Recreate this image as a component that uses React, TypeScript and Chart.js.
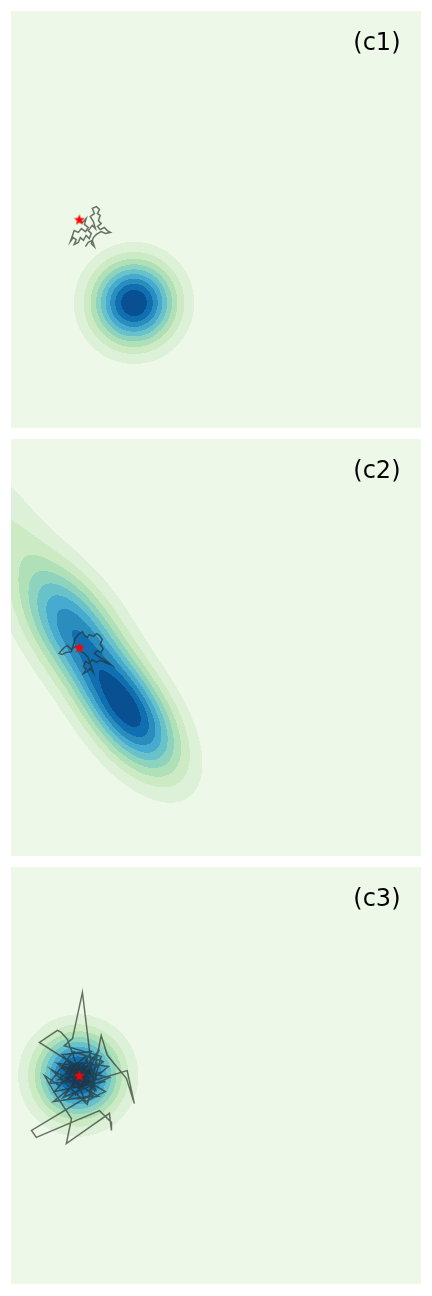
import React, { useEffect, useRef } from "react";
import { Chart, registerables } from "chart.js";

Chart.register(...registerables);

// ---------- data ----------
const AXIS_MIN = -6;
const AXIS_MAX = 6;
const PANEL_LABELS = ["(c1)", "(c2)", "(c3)"];

// starting point (red star), same in every panel
const START_X = [-4.0];
const START_Y = [0.0];

// contour levels as fractions of the panel's peak density, and their fills (GnBu)
const LEVEL_FRACTIONS = [0.1, 0.2, 0.3, 0.4, 0.5, 0.6, 0.7, 0.8, 0.9];
const LEVEL_COLORS = [
  "#eef8e8", "#dcf1d7", "#ccebc5", "#afe0b8", "#8dd3be",
  "#69c2ca", "#47abcf", "#2b8cbe", "#0f6fb0", "#085092",
];

// density components (Gaussian bumps): centre, spread along / across axis, axis angle (deg), height
const C1_MEAN_X = [-2.4];
const C1_MEAN_Y = [-2.4];
const C1_SIGMA_MAJOR = [0.82];
const C1_SIGMA_MINOR = [0.82];
const C1_ANGLE = [0];
const C1_HEIGHT = [1];

const C2_MEAN_X = [-2.55, -4.27, -6.33];
const C2_MEAN_Y = [-1.89, 0.66, 3.8];
const C2_SIGMA_MAJOR = [1.42, 1.45, 1.6];
const C2_SIGMA_MINOR = [0.73, 0.8, 0.72];
const C2_ANGLE = [126, 126, 126];
const C2_HEIGHT = [1, 0.75, 0.19];

const C3_MEAN_X = [-4.03];
const C3_MEAN_Y = [0.0];
const C3_SIGMA_MAJOR = [0.82];
const C3_SIGMA_MINOR = [0.82];
const C3_ANGLE = [0];
const C3_HEIGHT = [1];

// sampler trajectories
const C1_PATH_X = [-4.00, -3.91, -3.80, -3.85, -3.74, -3.82, -3.94, -4.03, -4.15, -4.20, -4.26, -4.18, -4.09, -4.15, -4.03, -3.97, -3.88, -3.80, -3.71, -3.65, -3.74, -3.62, -3.53, -3.59, -3.68, -3.56, -3.62, -3.50, -3.41, -3.47, -3.39, -3.44, -3.36, -3.47, -3.39, -3.27, -3.18, -3.09, -3.24, -3.36, -3.50, -3.59, -3.65, -3.56, -3.62, -3.74, -3.82];
const C1_PATH_Y = [0.00, -0.09, 0.03, -0.14, -0.23, -0.35, -0.26, -0.37, -0.32, -0.46, -0.63, -0.52, -0.58, -0.72, -0.66, -0.52, -0.60, -0.46, -0.55, -0.40, -0.32, -0.17, -0.26, -0.06, 0.09, 0.17, 0.32, 0.37, 0.29, 0.17, 0.12, -0.03, -0.12, -0.20, -0.29, -0.23, -0.32, -0.37, -0.40, -0.35, -0.43, -0.52, -0.69, -0.78, -0.60, -0.66, -0.78];

const C2_PATH_X = [-4.00, -4.12, -4.23, -4.35, -4.44, -4.53, -4.59, -4.50, -4.38, -4.23, -4.18, -4.12, -4.03, -3.91, -3.85, -3.77, -3.71, -3.59, -3.50, -3.41, -3.33, -3.39, -3.30, -3.36, -3.47, -3.56, -3.44, -3.33, -3.21, -3.09, -3.24, -3.39, -3.50, -3.62, -3.71, -3.82, -3.88, -3.80, -3.88, -3.77, -3.68, -3.59, -3.65, -3.74, -3.85, -3.94];
const C2_PATH_Y = [0.00, 0.03, -0.06, 0.06, 0.00, -0.09, -0.17, -0.20, -0.14, -0.12, 0.06, 0.26, 0.37, 0.46, 0.35, 0.29, 0.37, 0.32, 0.40, 0.35, 0.23, 0.09, -0.03, -0.14, -0.09, -0.17, -0.26, -0.32, -0.40, -0.49, -0.43, -0.37, -0.43, -0.35, -0.46, -0.40, -0.55, -0.63, -0.75, -0.69, -0.60, -0.72, -0.55, -0.29, -0.17, -0.12];

const C3_PATH_X = [-4.00, -4.23, -3.71, -4.41, -3.59, -4.12, -3.36, -4.61, -3.82, -3.53, -4.50, -3.65, -4.26, -3.24, -4.73, -3.94, -3.15, -4.35, -3.44, -4.82, -3.77, -3.36, -4.44, -4.20, -3.91, -3.56, -4.29, -5.17, -4.64, -4.53, -4.35, -3.88, -2.60, -2.39, -2.62, -3.18, -3.36, -3.71, -5.40, -5.26, -3.41, -3.06, -3.06, -3.12, -4.38, -4.23, -4.73, -5.02, -4.59, -3.77, -4.18, -3.85, -4.09, -3.47, -4.29, -4.00, -3.71, -4.53, -3.59, -4.76, -3.30, -4.18, -4.88, -3.47, -4.35, -3.82, -3.24, -4.64, -3.65, -4.12, -3.41, -4.47, -3.12, -4.23, -3.94];
const C3_PATH_Y = [0.00, -0.17, 0.14, 0.26, -0.26, -0.49, 0.09, -0.12, 0.55, -0.40, 0.60, 0.69, -0.35, -0.17, -0.46, 0.37, 0.26, -0.69, -0.60, 0.17, -0.83, 0.55, 0.86, 1.06, 2.39, -0.43, 0.40, 0.95, 1.30, 1.24, 1.04, -0.23, 0.14, -0.81, -0.09, 0.58, 1.15, -0.58, -1.58, -1.78, -1.01, -1.35, -1.58, -1.09, -1.96, -1.24, -0.49, 0.00, -0.29, 0.29, -0.17, -0.09, 0.14, 0.35, 0.06, -0.35, -0.06, 0.23, -0.58, -0.75, 0.40, 0.69, -0.23, -0.12, 0.46, -0.75, -0.46, 0.35, 0.23, -0.58, 0.75, -0.63, -0.06, 0.17, -0.40];

// ---------- helpers ----------
type Bump = { mx: number; my: number; su: number; sv: number; angle: number; h: number };

function bumps(mx: number[], my: number[], su: number[], sv: number[], ang: number[], h: number[]): Bump[] {
  return mx.map((_, i) => ({ mx: mx[i], my: my[i], su: su[i], sv: sv[i], angle: ang[i], h: h[i] }));
}

function pts(xs: number[], ys: number[]) {
  return xs.map((x, i) => ({ x, y: ys[i] }));
}

const PANELS = [
  { label: PANEL_LABELS[0], bumps: bumps(C1_MEAN_X, C1_MEAN_Y, C1_SIGMA_MAJOR, C1_SIGMA_MINOR, C1_ANGLE, C1_HEIGHT), path: pts(C1_PATH_X, C1_PATH_Y) },
  { label: PANEL_LABELS[1], bumps: bumps(C2_MEAN_X, C2_MEAN_Y, C2_SIGMA_MAJOR, C2_SIGMA_MINOR, C2_ANGLE, C2_HEIGHT), path: pts(C2_PATH_X, C2_PATH_Y) },
  { label: PANEL_LABELS[2], bumps: bumps(C3_MEAN_X, C3_MEAN_Y, C3_SIGMA_MAJOR, C3_SIGMA_MINOR, C3_ANGLE, C3_HEIGHT), path: pts(C3_PATH_X, C3_PATH_Y) },
];

function hexToRgb(hex: string) {
  const n = parseInt(hex.slice(1), 16);
  return [(n >> 16) & 255, (n >> 8) & 255, n & 255];
}

function density(bs: Bump[], x: number, y: number) {
  let s = 0;
  for (const b of bs) {
    const a = (b.angle * Math.PI) / 180;
    const dx = x - b.mx;
    const dy = y - b.my;
    const u = dx * Math.cos(a) + dy * Math.sin(a);
    const v = -dx * Math.sin(a) + dy * Math.cos(a);
    s += b.h * Math.exp(-0.5 * ((u * u) / (b.su * b.su) + (v * v) / (b.sv * b.sv)));
  }
  return s;
}

const contourPlugin = {
  id: "densityContour",
  beforeDatasetsDraw(chart: any) {
    const opts = chart.options.plugins.densityContour;
    if (!opts) return;
    const bs: Bump[] = opts.bumps;
    const { ctx, chartArea, scales } = chart;
    const left = Math.round(chartArea.left);
    const top = Math.round(chartArea.top);
    const w = Math.round(chartArea.right) - left;
    const h = Math.round(chartArea.bottom) - top;
    const xs = new Float64Array(w);
    const ys = new Float64Array(h);
    for (let i = 0; i < w; i++) xs[i] = scales.x.getValueForPixel(left + i + 0.5);
    for (let j = 0; j < h; j++) ys[j] = scales.y.getValueForPixel(top + j + 0.5);
    const vals = new Float64Array(w * h);
    let max = 0;
    for (let j = 0; j < h; j++) {
      for (let i = 0; i < w; i++) {
        const v = density(bs, xs[i], ys[j]);
        vals[j * w + i] = v;
        if (v > max) max = v;
      }
    }
    const rgb = LEVEL_COLORS.map(hexToRgb);
    const img = ctx.createImageData(w, h);
    for (let k = 0; k < w * h; k++) {
      const f = vals[k] / max;
      let band = 0;
      for (const lv of LEVEL_FRACTIONS) if (f >= lv) band++;
      const c = rgb[band];
      img.data[k * 4] = c[0];
      img.data[k * 4 + 1] = c[1];
      img.data[k * 4 + 2] = c[2];
      img.data[k * 4 + 3] = 255;
    }
    ctx.putImageData(img, left, top);
  },
};

const labelPlugin = {
  id: "panelLabel",
  afterDatasetsDraw(chart: any) {
    const opts = chart.options.plugins.panelLabel;
    if (!opts) return;
    const { ctx, chartArea } = chart;
    const w = chartArea.right - chartArea.left;
    ctx.save();
    ctx.font = '24px "DejaVu Sans"';
    ctx.fillStyle = "#000000";
    ctx.textAlign = "right";
    ctx.textBaseline = "alphabetic";
    ctx.fillText(opts.text, chartArea.right - 0.05 * w, chartArea.top + 39);
    ctx.restore();
  },
};

function makeStar(outer: number, inner: number, color: string) {
  const size = Math.ceil(outer * 2 + 2);
  const c = document.createElement("canvas");
  c.width = size;
  c.height = size;
  const g = c.getContext("2d")!;
  const cx = size / 2;
  const cy = size / 2 + 0.5;
  g.beginPath();
  for (let i = 0; i < 10; i++) {
    const r = i % 2 === 0 ? outer : inner;
    const a = -Math.PI / 2 + (i * Math.PI) / 5;
    const px = cx + r * Math.cos(a);
    const py = cy + r * Math.sin(a);
    if (i === 0) g.moveTo(px, py);
    else g.lineTo(px, py);
  }
  g.closePath();
  g.fillStyle = color;
  g.fill();
  return c;
}

function Panel({ panel, marginTop }: { panel: (typeof PANELS)[number]; marginTop: number }) {
  const ref = useRef<HTMLCanvasElement | null>(null);
  useEffect(() => {
    if (!ref.current) return;
    const star = makeStar(5.8, 2.4, "#ff0000");
    const chart = new Chart(ref.current, {
      type: "scatter",
      data: {
        datasets: [
          {
            data: pts(START_X, START_Y),
            pointStyle: star as any,
            pointRadius: 5,
            backgroundColor: "#ff0000",
            borderColor: "#ff0000",
            showLine: false,
          },
          {
            data: panel.path,
            showLine: true,
            pointRadius: 0,
            borderColor: "rgba(40,48,42,0.68)",
            borderWidth: 1.5,
            tension: 0,
            fill: false,
          },
        ],
      },
      options: {
        responsive: false,
        maintainAspectRatio: false,
        devicePixelRatio: 1,
        animation: false,
        events: [],
        layout: { padding: 0, autoPadding: false } as any,
        scales: {
          x: { type: "linear", min: AXIS_MIN, max: AXIS_MAX, display: false },
          y: { type: "linear", min: AXIS_MIN, max: AXIS_MAX, display: false },
        },
        plugins: {
          legend: { display: false },
          tooltip: { enabled: false },
          densityContour: { bumps: panel.bumps },
          panelLabel: { text: panel.label },
        } as any,
      },
      plugins: [contourPlugin, labelPlugin],
    });
    return () => chart.destroy();
  }, [panel]);
  return (
    <canvas
      ref={ref}
      width={410}
      height={417}
      style={{ display: "block", width: 410, height: 417, marginTop }}
    />
  );
}

export default function App() {
  return (
    <div style={{ padding: "3px 3px 0 3px" }}>
      {PANELS.map((p, i) => (
        <Panel key={p.label} panel={p} marginTop={i === 0 ? 0 : 11} />
      ))}
    </div>
  );
}
